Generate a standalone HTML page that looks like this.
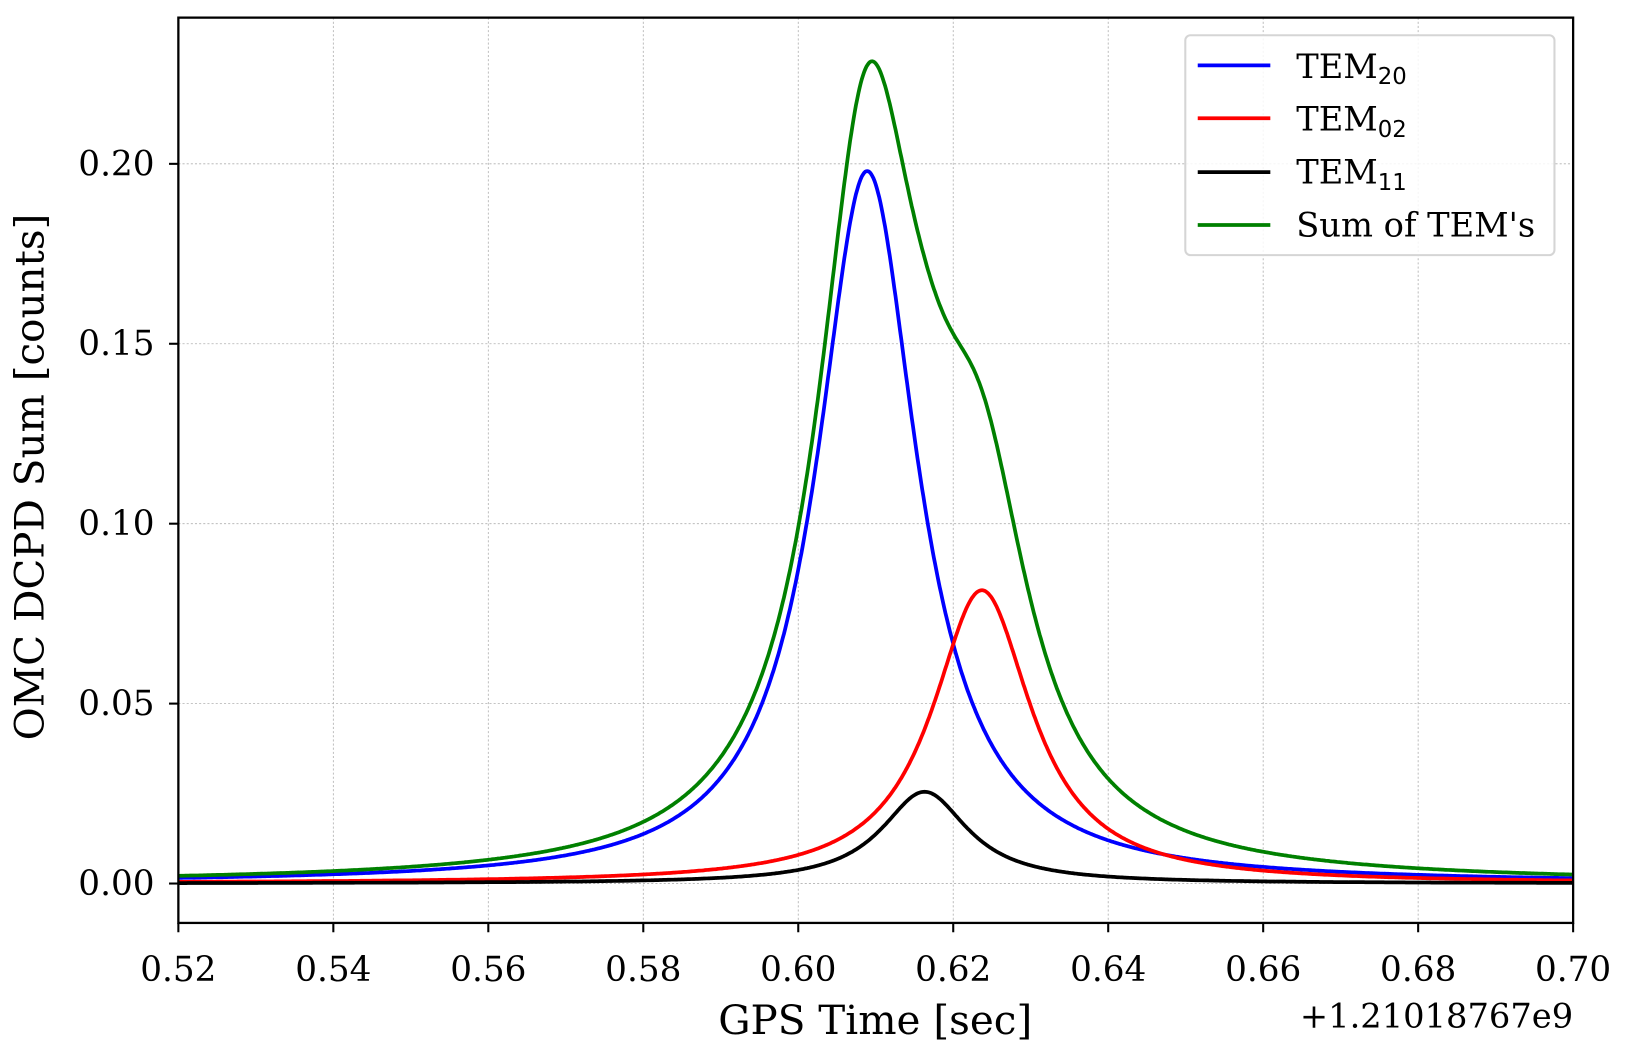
<!DOCTYPE html>
<html><head><meta charset="utf-8"><style>
body{margin:0;background:#fff}
text{font-family:"DejaVu Serif","Liberation Serif",serif;fill:#000}
</style></head><body>
<svg id="s" width="1627" height="1059" xmlns="http://www.w3.org/2000/svg">
<rect width="1627" height="1059" fill="#fff"/>
<g transform="scale(1.037)">
<g id="grid" stroke="#b0b0b0" stroke-width="0.8" stroke-dasharray="2,2"></g>
<g id="curves" fill="none" stroke-width="3.6"></g>
<rect x="172" y="17" width="1345" height="873" fill="none" stroke="#000" stroke-width="2.2"/>
<g id="ticks" stroke="#000" stroke-width="2"></g>
<g id="labels" font-size="33"></g>
<text x="844" y="997" font-size="39" text-anchor="middle">GPS Time [sec]</text>
<text x="1517" y="991" font-size="32.5" text-anchor="end">+1.21018767e9</text>
<text transform="translate(42,460) rotate(-90)" font-size="39" text-anchor="middle">OMC DCPD Sum [counts]</text>
<rect x="1143" y="34" width="356" height="212" rx="5" fill="#fff" fill-opacity="0.85" stroke="#d5d5d5" stroke-width="2"/>
<g stroke-width="3.6">
<line x1="1155" y1="63" x2="1225" y2="63" stroke="#0000ff"/>
<line x1="1155" y1="114" x2="1225" y2="114" stroke="#ff0000"/>
<line x1="1155" y1="166" x2="1225" y2="166" stroke="#000"/>
<line x1="1155" y1="217" x2="1225" y2="217" stroke="#008000"/>
</g>
<g font-size="32.5">
<text x="1250" y="75">TEM<tspan font-family="DejaVu Sans,sans-serif" font-size="22" dy="6">20</tspan></text>
<text x="1250" y="126">TEM<tspan font-family="DejaVu Sans,sans-serif" font-size="22" dy="6">02</tspan></text>
<text x="1250" y="177">TEM<tspan font-family="DejaVu Sans,sans-serif" font-size="22" dy="6">11</tspan></text>
<text x="1250" y="228">Sum of TEM's</text>
</g>
</g>
</svg>
<script>
var NS="http://www.w3.org/2000/svg";
function X(v){return 172+(v-0.52)/0.18*1345;}
function Y(v){return 852-v/0.2*694;}
function el(p,t,a,txt){var e=document.createElementNS(NS,t);for(var k in a)e.setAttribute(k,a[k]);if(txt)e.textContent=txt;document.getElementById(p).appendChild(e);}
for(var i=0;i<=9;i++){var v=0.52+i*0.02,x=X(v);
 if(i>0&&i<9)el("grid","line",{x1:x,y1:17,x2:x,y2:890});
 el("ticks","line",{x1:x,y1:890,x2:x,y2:899});
 el("labels","text",{x:x,y:946,"text-anchor":"middle"},v.toFixed(2));}
for(var j=0;j<=4;j++){var v=j*0.05,y=Y(v);
 el("grid","line",{x1:172,y1:y,x2:1517,y2:y});
 el("ticks","line",{x1:163,y1:y,x2:172,y2:y});
 el("labels","text",{x:149,y:y+11,"text-anchor":"end"},v.toFixed(2));}
function L(t,c,h,w){var d=(t-c)/w;return h/(1+d*d);}
function b(t){return L(t,0.6089,0.198,0.0079);}
function r(t){return L(t,0.6237,0.0815,0.0078);}
function k(t){return L(t,0.6163,0.0255,0.0068);}
function g(t){return b(t)+r(t)+k(t);}
[[b,"#0000ff"],[r,"#ff0000"],[k,"#000"],[g,"#008000"]].forEach(function(s){
 var p="";for(var i=0;i<=1200;i++){var t=0.52+0.18*i/1200;p+=(i?"L":"M")+X(t).toFixed(1)+","+Y(s[0](t)).toFixed(1);}
 el("curves","path",{d:p,stroke:s[1]});});
</script>
</body></html>
